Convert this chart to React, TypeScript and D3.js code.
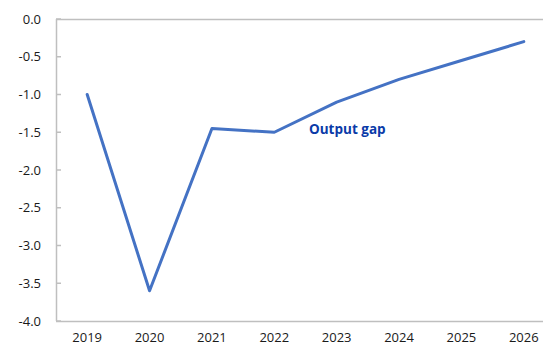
import React from "react";
import * as d3 from "d3";

const years = ["2019", "2020", "2021", "2022", "2023", "2024", "2025", "2026"];
const outputGap = [-1.0, -3.6, -1.45, -1.5, -1.1, -0.8, -0.55, -0.3];
const yTicks = [0, -0.5, -1, -1.5, -2, -2.5, -3, -3.5, -4];

export default function App() {
  const W = 543, H = 347;
  const left = 56, right = 555, top = 19, bottom = 321;
  const x = d3.scaleBand<string>().domain(years).range([left, right]);
  const y = d3.scaleLinear().domain([-4, 0]).range([bottom, top]);
  const line = d3
    .line<number>()
    .x((_, i) => (x(years[i]) as number) + x.bandwidth() / 2)
    .y((d) => y(d));
  const font = "'Open Sans', 'Noto Sans', sans-serif";
  const axisColor = "#bfbfbf";
  return (
    <svg
      width={W}
      height={H}
      style={{ position: "absolute", left: 0, top: 0, background: "#fff" }}
    >
      <rect x={0} y={0} width={W} height={H} fill="#fff" />
      <line x1={left} x2={right} y1={top + 0.5} y2={top + 0.5} stroke={axisColor} strokeWidth={1.5} />
      <line x1={left + 0.5} x2={left + 0.5} y1={top} y2={bottom} stroke={axisColor} strokeWidth={1.5} />
      <line x1={left} x2={right} y1={bottom + 0.5} y2={bottom + 0.5} stroke={axisColor} strokeWidth={1.5} />
      {yTicks.map((t) => (
        <g key={t}>
          <line x1={left} x2={left + 5} y1={y(t)} y2={y(t)} stroke={axisColor} strokeWidth={1.5} />
          <text
            x={41}
            y={y(t)}
            dy="0.35em"
            textAnchor="end"
            fontFamily={font}
            fontSize={13}
            fill="#1a1a1a"
          >
            {t.toFixed(1)}
          </text>
        </g>
      ))}
      {years.map((yr) => (
        <text
          key={yr}
          x={(x(yr) as number) + x.bandwidth() / 2}
          y={342}
          textAnchor="middle"
          fontFamily={font}
          fontSize={13}
          fill="#1a1a1a"
        >
          {yr}
        </text>
      ))}
      <path
        d={line(outputGap) || ""}
        fill="none"
        stroke="#4472C4"
        strokeWidth={3}
        strokeLinejoin="round"
        strokeLinecap="round"
      />
      <text
        x={309}
        y={134}
        fontFamily={font}
        fontSize={13.5}
        fontWeight="bold"
        fill="#0a3aa8"
      >
        Output gap
      </text>
    </svg>
  );
}
